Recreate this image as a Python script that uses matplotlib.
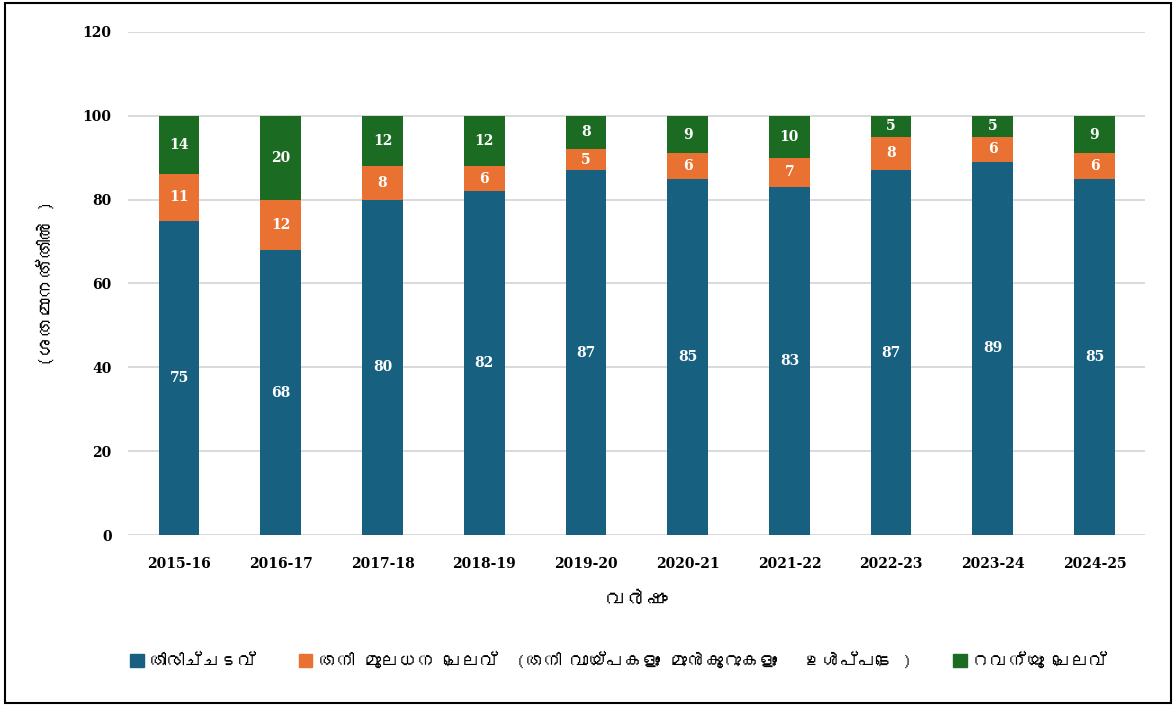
import matplotlib
matplotlib.use("Agg")
import matplotlib.pyplot as plt
from matplotlib import font_manager
from matplotlib.ft2font import FT2Font
from matplotlib.patches import Rectangle
import numpy as np

# ---- data ----
years = ["2015-16", "2016-17", "2017-18", "2018-19", "2019-20",
         "2020-21", "2021-22", "2022-23", "2023-24", "2024-25"]
repayment = [75, 68, 80, 82, 87, 85, 83, 87, 89, 85]
capital_exp = [11, 12, 8, 6, 5, 6, 7, 8, 6, 6]
revenue_exp = [14, 20, 12, 12, 8, 9, 10, 5, 5, 9]

series_names = ["തിരിച്ചടവ്",
                "തനി മൂലധന ചെലവ്  (തനി വായ്പകളും മുൻകൂറുകളും   ഉൾപ്പടെ )",
                "റവന്യൂ ചെലവ്"]
colors = ["#17607f", "#e97132", "#1b6b23"]


# pick an installed font that actually has Malayalam glyphs, if any
def find_malayalam_font():
    for f in font_manager.fontManager.ttflist:
        try:
            cmap = FT2Font(f.fname).get_charmap()
        except Exception:
            continue
        if 0x0D24 in cmap and 0x0D4D in cmap:
            return f.name
    return None


ml_font = find_malayalam_font()
ml_family = [ml_font, "DejaVu Sans"] if ml_font else ["Noto Sans", "DejaVu Sans"]

num_font = "DejaVu Serif"

fig = plt.figure(figsize=(11.76, 7.06), dpi=100)
ax = fig.add_axes([0.109, 0.242, 0.865, 0.713])

x = np.arange(len(years))
w = 0.4
bottom = np.zeros(len(years))
for vals, c in zip([repayment, capital_exp, revenue_exp], colors):
    bars = ax.bar(x, vals, w, bottom=bottom, color=c, zorder=3)
    for b, v in zip(bars, vals):
        ax.text(b.get_x() + b.get_width() / 2, b.get_y() + b.get_height() / 2, str(v),
                ha="center", va="center", color="white", fontsize=10,
                fontweight="bold", family=num_font, zorder=4)
    bottom += np.array(vals)

ax.set_xlim(-0.5, len(years) - 0.5)
ax.set_ylim(0, 120)
ax.set_yticks(range(0, 121, 20))
ax.set_xticks(x)
ax.set_xticklabels(years)
for lab in ax.get_xticklabels() + ax.get_yticklabels():
    lab.set_family(num_font)
    lab.set_fontweight("bold")
    lab.set_fontsize(10)
ax.tick_params(length=0, pad=12)
ax.tick_params(axis="x", pad=16)
ax.grid(axis="y", color="#d9d9d9", linewidth=1.4, zorder=0)
for s in ax.spines.values():
    s.set_visible(False)

ax.set_ylabel("(ശതമാനത്തിൽ )", family=ml_family, fontsize=14, labelpad=20)
ax.set_xlabel("വർഷം", family=ml_family, fontsize=15, labelpad=14)

# legend along the bottom
handles = [Rectangle((0, 0), 1, 1, color=c) for c in colors]
fig.legend(handles, series_names, loc="center", bbox_to_anchor=(0.526, 0.065),
           ncol=3, frameon=False, prop={"family": ml_family, "size": 13},
           handlelength=0.75, handleheight=0.75, handletextpad=0.3, columnspacing=2.3)

# outer border
fig.patches.append(Rectangle((0.004, 0.004), 0.992, 0.992, transform=fig.transFigure,
                             fill=False, edgecolor="black", linewidth=1.5))

fig.savefig("out.png", dpi=100)
